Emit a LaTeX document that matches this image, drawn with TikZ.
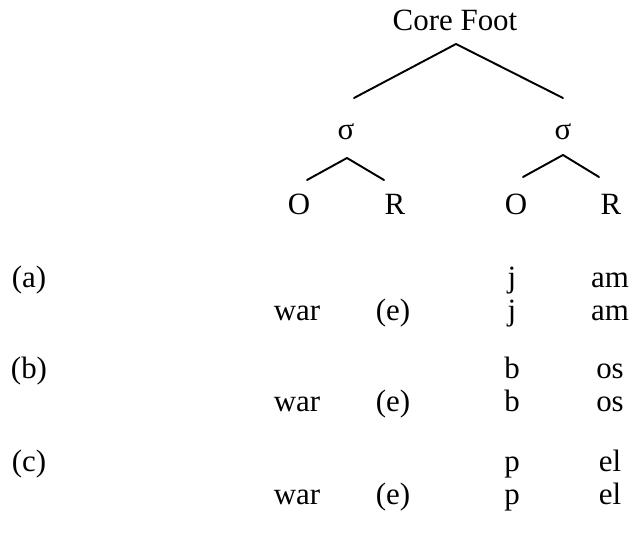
\documentclass[tikz,border=0pt]{standalone}
\usepackage{fontspec}
\setmainfont{Liberation Serif}
\usepackage{tikz}
\tikzset{
  lbl/.style    = {anchor=base,inner sep=0pt,font=\fontsize{17.6}{21}\selectfont},
  branch/.style = {line width=1.1pt,line cap=round}
}

\begin{document}
\begin{tikzpicture}
  \useasboundingbox (0,0) rectangle (12.66,10.88);
  % foot and syllables
  \node[lbl] (foot) at (9.10,10.26) {Core Foot};
  \node[lbl] (sigL) at (6.92,8.08)  {σ};
  \node[lbl] (sigR) at (11.26,8.08) {σ};
  \node[lbl] (onsL) at (5.98,6.58)  {O};
  \node[lbl] (rimL) at (7.90,6.58)  {R};
  \node[lbl] (onsR) at (10.32,6.58) {O};
  \node[lbl] (rimR) at (12.22,6.58) {R};
  % branch points
  \coordinate (foot-top) at (9.12,10.00);
  \coordinate (foot-l)   at (7.08,8.92);
  \coordinate (foot-r)   at (11.26,8.92);
  \coordinate (sigL-top) at (6.94,7.72);
  \coordinate (sigL-l)   at (6.14,7.28);
  \coordinate (sigL-r)   at (7.68,7.28);
  \coordinate (sigR-top) at (11.26,7.78);
  \coordinate (sigR-l)   at (10.46,7.34);
  \coordinate (sigR-r)   at (11.98,7.34);
  \draw[branch] (foot-l) -- (foot-top) -- (foot-r);
  \draw[branch] (sigL-l) -- (sigL-top) -- (sigL-r);
  \draw[branch] (sigR-l) -- (sigR-top) -- (sigR-r);
  % examples
  \foreach \lab/\on/\rh/\y [count=\i] in {a/j/am/5.12, b/b/os/3.30, c/p/el/1.44}{
    \node[lbl] (ex\i)   at (0.58,\y)       {(\lab)};
    \node[lbl] (ons\i)  at (10.24,\y)      {\on};
    \node[lbl] (rhy\i)  at (12.20,\y)      {\rh};
    \node[lbl] (war\i)  at (5.94,\y-0.66)  {war};
    \node[lbl] (epn\i)  at (7.86,\y-0.66)  {(e)};
    \node[lbl] (onsb\i) at (10.24,\y-0.66) {\on};
    \node[lbl] (rhyb\i) at (12.20,\y-0.66) {\rh};
  }
\end{tikzpicture}
\end{document}
